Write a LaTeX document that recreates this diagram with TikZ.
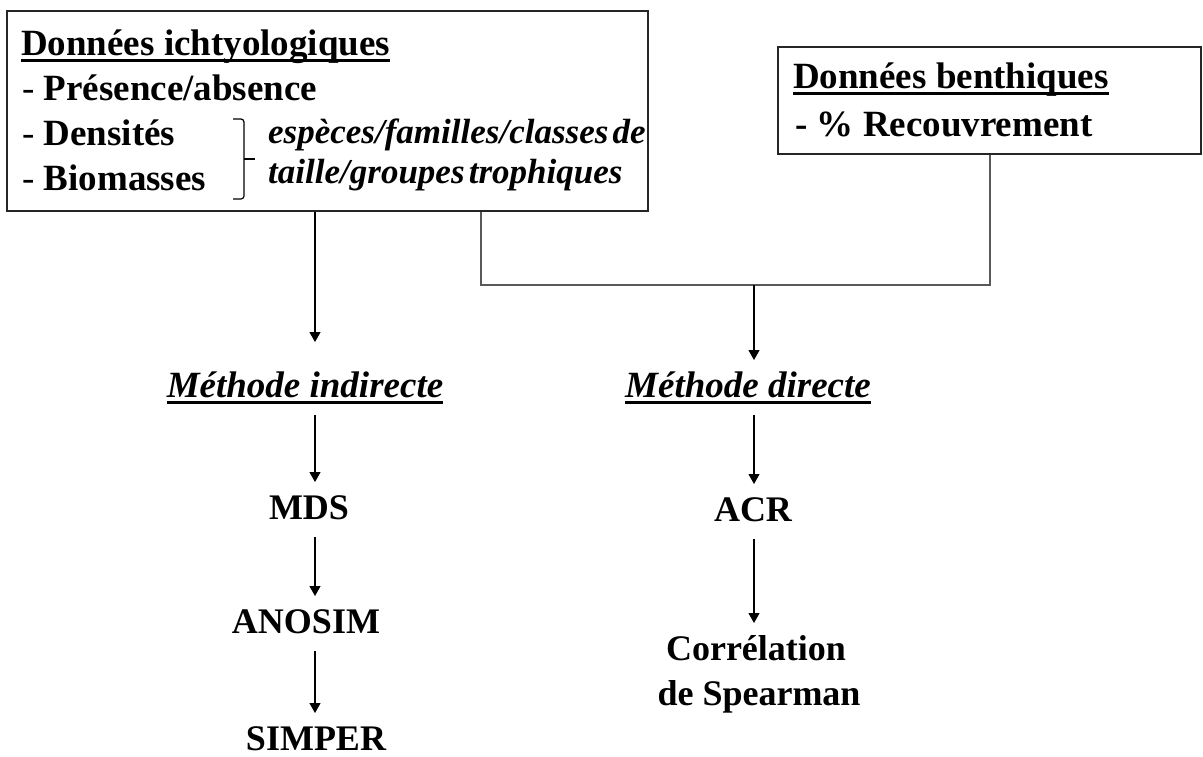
\documentclass[tikz,border=0pt]{standalone}
\usepackage{fontspec}
\setmainfont{Liberation Serif}
\usetikzlibrary{arrows.meta,positioning}
\newcommand{\ulbox}[1]{\setbox0\hbox{#1}\rlap{\rule[-7pt]{\wd0}{3pt}}\box0}
\newcommand{\tightsp}{\spaceskip=0.12em\relax}

\begin{document}
\begin{tikzpicture}[
    x=1pt, y=-1pt,
    box/.style={draw=black!85, line width=1.6pt, anchor=north west, inner sep=0},
    txt/.style={font=\fontsize{37}{45}\selectfont\bfseries, inner sep=0, anchor=base west},
    note/.style={font=\fontsize{35}{40}\selectfont\bfseries\itshape\tightsp, inner sep=0, anchor=base west},
    method/.style={font=\fontsize{37}{45}\selectfont\bfseries\itshape, inner sep=0, text height=27pt, text depth=8pt, outer ysep=10pt, anchor=base},
    result/.style={font=\fontsize{36}{45}\selectfont\bfseries, inner sep=0, text height=27pt, text depth=8pt, outer ysep=10pt, anchor=base},
    brace/.style={line width=1.2pt, rounded corners=3pt},
    link/.style={line width=1.6pt, draw=black!65},
    arrow/.style={-{Triangle[width=11pt,length=10pt]}, line width=1.1pt}
]
\useasboundingbox (0,0) rectangle (1203,756);

% Data boxes
\node[box, minimum width=641pt, minimum height=200pt] (ichtyo) at (6,10) {};
\node[box, minimum width=423pt, minimum height=107pt] (benthi) at (777,46) {};

% Fish data
\node[txt] (ititle) at (21,55) {\ulbox{Données ichtyologiques}};
\node[txt] (pres) at (22,100) {\textmd{-} Présence/absence};
\node[txt] (dens) at (22,145) {\textmd{-} Densités};
\node[txt] (biom) at (22,190) {\textmd{-} Biomasses};
\draw[brace] (233,119) -- (244,119) -- (244,199) -- (233,199);
\draw[brace] (244,159) -- (255,159);
\node[note] (cls1) at (268,143) {espèces/familles/classes de};
\node[note] (cls2) at (268,183) {taille/groupes trophiques};

% Benthic data
\node[txt] (btitle) at (793,88) {\ulbox{Données benthiques}};
\node[txt] (bitem) at (795,136) {- \% Recouvrement};

% Methods
\node[method] (indir) at (305,397) {\ulbox{Méthode indirecte}};
\node[method] (direct) at (748,397) {\ulbox{Méthode directe}};

% Analyses
\node[result] (mds) at (309,519) {MDS};
\node[result] (anosim) at (306,633) {ANOSIM};
\node[result] (simper) at (316,750) {SIMPER};
\node[result] (acr) at (753,521) {ACR};
\node[result] (corr) at (756,660) {Corrélation};
\node[result] (spear) at (759,705) {de Spearman};

% Columns and junction
\coordinate (colL) at (315,0);
\coordinate (colR) at (754,0);
\coordinate (jL) at (481,285);
\coordinate (jM) at (754,285);
\coordinate (jR) at (990,285);

% Connectors
\draw[link] (ichtyo.south -| jL) -- (jL) -- (jR) -- (benthi.south -| jR);
\draw[arrow, shorten >=18pt] (ichtyo.south -| colL) -- (indir.north -| colL);
\draw[arrow] (jM) -- (direct.north -| jM);
\draw[arrow] (indir.south -| colL) -- (mds.north -| colL);
\draw[arrow] (mds.south -| colL) -- (anosim.north -| colL);
\draw[arrow] (anosim.south -| colL) -- (simper.north -| colL);
\draw[arrow] (direct.south -| colR) -- (acr.north -| colR);
\draw[arrow] (acr.south -| colR) -- (corr.north -| colR);

\end{tikzpicture}
\end{document}
